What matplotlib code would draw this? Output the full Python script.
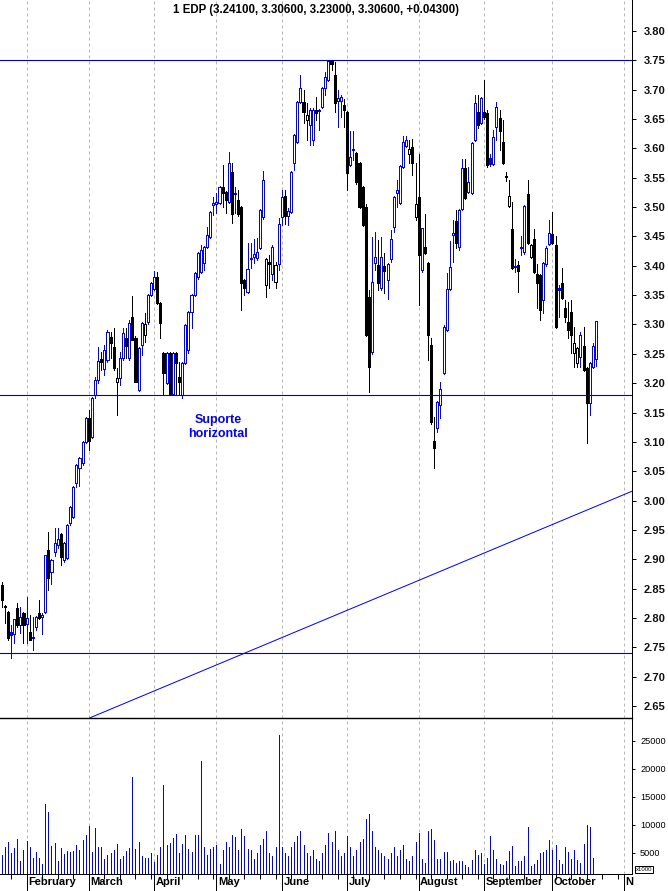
import matplotlib
matplotlib.use("Agg")
import matplotlib.pyplot as plt
import matplotlib.transforms as mtransforms
from matplotlib.patches import Rectangle

plt.rcParams['font.family'] = ['Liberation Sans', 'DejaVu Sans']

# daily candles, trading-day index 0 = last days of January
opens = [2.856, 2.820, 2.810, 2.776, 2.773, 2.817, 2.788, 2.809, 2.789, 2.776,
         2.766, 2.785, 2.809, 2.802, 2.810, 2.916, 2.878, 2.912, 2.925, 2.943,
         2.899, 2.902, 2.962, 2.972, 3.030, 3.056, 3.064, 3.100, 3.141, 3.108,
         3.180, 3.205, 3.242, 3.224, 3.240, 3.279, 3.262, 3.202, 3.209, 3.243,
         3.277, 3.243, 3.313, 3.277, 3.188, 3.265, 3.282, 3.304, 3.350, 3.361,
         3.381, 3.337, 3.251, 3.200, 3.251, 3.182, 3.251, 3.211, 3.180, 3.234,
         3.257, 3.321, 3.350, 3.381, 3.390, 3.405, 3.432, 3.449, 3.504, 3.505,
         3.507, 3.534, 3.526, 3.509, 3.560, 3.522, 3.512, 3.500, 3.376, 3.355,
         3.411, 3.415, 3.414, 3.430, 3.483, 3.367, 3.407, 3.386, 3.372, 3.403,
         3.483, 3.519, 3.485, 3.492, 3.575, 3.611, 3.679, 3.679, 3.648, 3.640,
         3.614, 3.665, 3.665, 3.671, 3.703, 3.717, 3.749, 3.725, 3.681, 3.680,
         3.674, 3.662, 3.572, 3.597, 3.592, 3.575, 3.534, 3.500, 3.347, 3.253,
         3.405, 3.401, 3.362, 3.400, 3.376, 3.412, 3.466, 3.524, 3.507, 3.568,
         3.604, 3.590, 3.602, 3.483, 3.517, 3.392, 3.432, 3.405, 3.265, 3.101,
         3.124, 3.163, 3.217, 3.291, 3.360, 3.453, 3.476, 3.432, 3.497, 3.567,
         3.526, 3.524, 3.614, 3.662, 3.643, 3.662, 3.660, 3.584, 3.573, 3.636,
         3.652, 3.611, 3.553, 3.502, 3.463, 3.400, 3.401, 3.430, 3.424, 3.522,
         3.415, 3.446, 3.386, 3.384, 3.342, 3.403, 3.437, 3.454, 3.435, 3.362,
         3.371, 3.328, 3.304, 3.321, 3.251, 3.234, 3.245, 3.263, 3.226, 3.166,
         3.228, 3.241]
highs = [2.861, 2.822, 2.812, 2.788, 2.798, 2.826, 2.819, 2.810, 2.836, 2.805,
         2.802, 2.803, 2.831, 2.808, 2.907, 2.947, 2.900, 2.953, 2.953, 2.945,
         2.930, 2.960, 2.990, 3.024, 3.062, 3.075, 3.102, 3.142, 3.154, 3.177,
         3.210, 3.262, 3.253, 3.265, 3.291, 3.287, 3.294, 3.226, 3.253, 3.294,
         3.294, 3.308, 3.349, 3.280, 3.262, 3.305, 3.320, 3.352, 3.373, 3.391,
         3.389, 3.339, 3.253, 3.253, 3.253, 3.253, 3.253, 3.236, 3.236, 3.300,
         3.323, 3.352, 3.390, 3.424, 3.435, 3.434, 3.466, 3.494, 3.517, 3.524,
         3.536, 3.572, 3.528, 3.594, 3.575, 3.534, 3.529, 3.502, 3.378, 3.439,
         3.439, 3.445, 3.447, 3.497, 3.561, 3.414, 3.418, 3.435, 3.406, 3.481,
         3.529, 3.529, 3.498, 3.562, 3.625, 3.681, 3.725, 3.700, 3.677, 3.668,
         3.669, 3.688, 3.667, 3.705, 3.730, 3.750, 3.750, 3.747, 3.700, 3.691,
         3.684, 3.664, 3.630, 3.630, 3.594, 3.577, 3.536, 3.506, 3.359, 3.449,
         3.458, 3.444, 3.449, 3.422, 3.405, 3.461, 3.519, 3.546, 3.572, 3.621,
         3.621, 3.614, 3.616, 3.575, 3.590, 3.464, 3.488, 3.407, 3.277, 3.142,
         3.170, 3.202, 3.299, 3.388, 3.442, 3.478, 3.495, 3.497, 3.582, 3.582,
         3.568, 3.611, 3.691, 3.691, 3.688, 3.717, 3.665, 3.590, 3.631, 3.679,
         3.665, 3.648, 3.560, 3.546, 3.509, 3.412, 3.408, 3.451, 3.504, 3.546,
         3.437, 3.463, 3.403, 3.386, 3.407, 3.433, 3.478, 3.492, 3.451, 3.367,
         3.396, 3.342, 3.338, 3.342, 3.296, 3.262, 3.287, 3.296, 3.228, 3.236,
         3.268, 3.306]
lows = [2.819, 2.792, 2.762, 2.732, 2.757, 2.785, 2.774, 2.757, 2.757, 2.763,
        2.745, 2.780, 2.798, 2.772, 2.808, 2.848, 2.858, 2.905, 2.920, 2.890,
        2.895, 2.900, 2.958, 2.970, 3.023, 3.025, 3.061, 3.098, 3.086, 3.106,
        3.175, 3.200, 3.222, 3.214, 3.236, 3.243, 3.222, 3.146, 3.197, 3.240,
        3.243, 3.240, 3.274, 3.202, 3.187, 3.248, 3.270, 3.300, 3.348, 3.358,
        3.335, 3.277, 3.180, 3.198, 3.180, 3.180, 3.180, 3.180, 3.175, 3.232,
        3.251, 3.294, 3.348, 3.378, 3.388, 3.393, 3.430, 3.447, 3.487, 3.490,
        3.505, 3.500, 3.490, 3.507, 3.473, 3.490, 3.485, 3.325, 3.350, 3.353,
        3.396, 3.405, 3.410, 3.428, 3.480, 3.347, 3.362, 3.376, 3.362, 3.393,
        3.470, 3.471, 3.470, 3.490, 3.563, 3.609, 3.677, 3.643, 3.614, 3.606,
        3.606, 3.648, 3.631, 3.669, 3.691, 3.715, 3.734, 3.662, 3.636, 3.654,
        3.636, 3.529, 3.570, 3.580, 3.540, 3.498, 3.468, 3.280, 3.185, 3.250,
        3.393, 3.359, 3.359, 3.354, 3.343, 3.406, 3.458, 3.500, 3.505, 3.566,
        3.602, 3.575, 3.555, 3.478, 3.333, 3.389, 3.420, 3.240, 3.130, 3.056,
        3.117, 3.141, 3.215, 3.289, 3.358, 3.406, 3.430, 3.427, 3.495, 3.514,
        3.524, 3.522, 3.612, 3.635, 3.641, 3.650, 3.568, 3.570, 3.571, 3.614,
        3.597, 3.573, 3.545, 3.500, 3.394, 3.389, 3.355, 3.418, 3.420, 3.437,
        3.413, 3.387, 3.328, 3.308, 3.320, 3.400, 3.435, 3.437, 3.294, 3.313,
        3.343, 3.304, 3.277, 3.251, 3.228, 3.228, 3.228, 3.220, 3.098, 3.146,
        3.226, 3.230]
closes = [2.831, 2.818, 2.766, 2.771, 2.798, 2.788, 2.802, 2.788, 2.800, 2.763,
          2.768, 2.802, 2.800, 2.805, 2.907, 2.868, 2.898, 2.927, 2.935, 2.904,
          2.928, 2.958, 2.989, 3.023, 3.061, 3.073, 3.100, 3.141, 3.102, 3.175,
          3.205, 3.238, 3.236, 3.257, 3.287, 3.268, 3.226, 3.209, 3.243, 3.285,
          3.263, 3.303, 3.274, 3.202, 3.260, 3.303, 3.300, 3.350, 3.371, 3.381,
          3.337, 3.303, 3.217, 3.251, 3.182, 3.251, 3.234, 3.202, 3.234, 3.299,
          3.321, 3.350, 3.388, 3.422, 3.427, 3.432, 3.452, 3.492, 3.507, 3.509,
          3.534, 3.524, 3.512, 3.575, 3.488, 3.524, 3.488, 3.371, 3.362, 3.394,
          3.414, 3.420, 3.424, 3.495, 3.546, 3.412, 3.403, 3.432, 3.401, 3.471,
          3.517, 3.485, 3.494, 3.560, 3.623, 3.679, 3.703, 3.662, 3.657, 3.665,
          3.665, 3.660, 3.663, 3.703, 3.722, 3.749, 3.744, 3.677, 3.686, 3.688,
          3.665, 3.558, 3.585, 3.599, 3.543, 3.500, 3.470, 3.282, 3.228, 3.372,
          3.415, 3.370, 3.415, 3.391, 3.403, 3.446, 3.517, 3.529, 3.570, 3.611,
          3.614, 3.599, 3.575, 3.505, 3.418, 3.464, 3.422, 3.282, 3.134, 3.090,
          3.168, 3.190, 3.296, 3.360, 3.398, 3.456, 3.439, 3.495, 3.567, 3.516,
          3.542, 3.609, 3.677, 3.640, 3.686, 3.653, 3.572, 3.573, 3.619, 3.671,
          3.630, 3.575, 3.551, 3.519, 3.396, 3.398, 3.391, 3.432, 3.502, 3.439,
          3.435, 3.389, 3.371, 3.325, 3.405, 3.431, 3.456, 3.439, 3.296, 3.358,
          3.345, 3.313, 3.291, 3.282, 3.268, 3.260, 3.282, 3.222, 3.166, 3.234,
          3.263, 3.306]
volumes = [4643, 6125, 7024, 5060, 5952, 7500, 3571, 5536, 7143, 6125,
           4167, 5119, 4167, 3036, 13750, 12380, 6226, 6845, 3571, 5952,
           4821, 5357, 5238, 5417, 6429, 5536, 7321, 8214, 9821, 5119,
           9524, 6125, 6125, 3929, 4643, 5060, 5536, 6607, 3929, 4464,
           5357, 5952, 18571, 5714, 7024, 4464, 4167, 4167, 4940, 3393,
           4643, 6125, 17143, 6429, 6845, 7679, 8393, 5060, 6607, 8214,
           5714, 5119, 8214, 8214, 21430, 6125, 4643, 5714, 6125, 6429,
           3036, 5536, 7000, 6125, 8214, 7917, 5536, 9286, 8036, 5655,
           5500, 4000, 5000, 6500, 7500, 9000, 5000, 4500, 6000, 26000,
           6000, 5000, 4500, 6000, 7000, 8000, 9000, 6500, 5000, 4500,
           5500, 4000, 3500, 5000, 6500, 8500, 7000, 9000, 5500, 4500,
           5000, 8000, 6000, 4500, 5500, 7000, 7500, 11000, 12000, 9000,
           6000, 5500, 5000, 4500, 4000, 5000, 6000, 4500, 5500, 6500,
           4000, 3500, 4500, 7000, 8500, 3929, 3274, 8929, 9286, 7321,
           3929, 3929, 5179, 5179, 3571, 3750, 3274, 3571, 3571, 2857,
           2500, 3750, 5536, 4643, 5000, 3036, 4107, 8036, 5536, 3929,
           3036, 2857, 3571, 5357, 6250, 2679, 3571, 3571, 4464, 9643,
           2679, 3036, 3750, 5000, 5179, 5536, 7321, 5536, 6429, 3750,
           3036, 6071, 5179, 3929, 5536, 3750, 3214, 6607, 10000, 9643,
           4107, 1300]

month_starts = [8, 28, 49, 69, 90, 111, 134, 155, 177, 200]
month_names = ["February", "March", "April", "May", "June", "July",
               "August", "September", "October", "N"]
week_ticks = list(range(3, 203, 5))

level_lines = [3.75, 3.18, 2.74]
trend_x = [28.4, 202.6]
trend_y = [2.63, 3.016]

price_ticks = [2.65, 2.70, 2.75, 2.80, 2.85, 2.90, 2.95, 3.00, 3.05, 3.10, 3.15,
               3.20, 3.25, 3.30, 3.35, 3.40, 3.45, 3.50, 3.55, 3.60, 3.65, 3.70,
               3.75, 3.80]
vol_ticks = [5000, 10000, 15000, 20000, 25000]

title = "1 EDP (3.24100, 3.30600, 3.23000, 3.30600, +0.04300)"

BLUE = "#0000ff"
GRID = "#b4b4b4"
W, H = 668, 891
px = 72.0 / 100  # one pixel in points

n = len(closes)
assert len(opens) == n and len(highs) == n and len(lows) == n and len(volumes) == n

fig = plt.figure(figsize=(W / 100, H / 100), dpi=100)
ax = fig.add_axes([0, 173 / H, 632 / W, 718 / H])
axv = fig.add_axes([0, 17 / H, 632 / W, 156 / H])

xmin, xmax = -0.546, 202.57
vol_floor = 1250

for a in (ax, axv):
    a.set_xlim(xmin, xmax)
    for m in month_starts:
        a.axvline(m, color=GRID, lw=px, ls=(0, (3, 3)), zorder=0)
    a.spines['left'].set_visible(False)
    a.spines['top'].set_visible(False)
    a.spines['right'].set_linewidth(px)
    a.spines['bottom'].set_linewidth(px)
    a.yaxis.tick_right()
# separator between price and volume panels
axv.spines['top'].set_visible(True)
axv.spines['top'].set_linewidth(px * 1.4)
axv.spines['top'].set_zorder(10)

ax.set_ylim(2.6296, 3.8528)
axv.set_ylim(vol_floor, 29100)

# candles
body_w = 0.66
for i in range(n):
    o, h, l, c = opens[i], highs[i], lows[i], closes[i]
    ref = closes[i - 1] if i > 0 else o
    col = BLUE if c >= ref else "black"
    ax.vlines(i, l, h, colors=col, lw=px, antialiased=False, zorder=2)
    lo, hi = min(o, c), max(o, c)
    face = "white" if c > o else col
    ax.add_patch(Rectangle((i - body_w / 2, lo), body_w, max(hi - lo, 0.0015),
                           facecolor=face, edgecolor=col, lw=px,
                           antialiased=False, zorder=3))

for lvl in level_lines:
    ax.axhline(lvl, color="#0000cc", lw=px * 1.1, zorder=4)
ax.plot(trend_x, trend_y, color=BLUE, lw=px, zorder=4)

ax.text(69.5, 3.125, "Suporte\nhorizontal", color=BLUE, fontsize=9,
        fontweight="bold", ha="center", va="center", linespacing=1.25)
ax.text(0.5, 1 - 10 / 718, title, transform=ax.transAxes, ha="center",
        va="center", fontsize=8.3, fontweight="bold")

ax.set_yticks(price_ticks)
ax.set_yticklabels(["%.2f" % t for t in price_ticks])
ax.tick_params(axis="y", direction="out", length=4 * px, width=px,
               pad=8 * px, labelsize=8, labelcolor="#101010")
for lab in ax.get_yticklabels():
    lab.set_fontweight("bold")
ax.tick_params(axis="x", which="both", bottom=False, labelbottom=False)

# volume
axv.vlines(range(n), vol_floor, volumes, colors=BLUE, lw=px,
           antialiased=False, zorder=2)
axv.set_yticks(vol_ticks)
axv.set_yticklabels([str(v) for v in vol_ticks])
axv.tick_params(axis="y", direction="out", length=3 * px, width=px,
                pad=5 * px, labelsize=6.6)

axv.set_xticks(month_starts)
axv.set_xticks(week_ticks, minor=True)
axv.tick_params(axis="x", which="major", direction="out", length=17 * px,
                width=px, labelbottom=False)
axv.tick_params(axis="x", which="minor", direction="out", length=5 * px,
                width=px)

trans = mtransforms.blended_transform_factory(axv.transData, axv.transAxes)
for m, name in zip(month_starts, month_names):
    axv.text(m + 0.5, -3 / 156, name, transform=trans, ha="left", va="top",
             fontsize=8, fontweight="bold", clip_on=False)

fig.text(644 / W, 1 - 869.5 / H, "x1000", fontsize=4.3, ha="center",
         va="center", bbox=dict(boxstyle="square,pad=0.15", fc="white",
                                ec="black", lw=px))

fig.savefig("out.png", dpi=100)
